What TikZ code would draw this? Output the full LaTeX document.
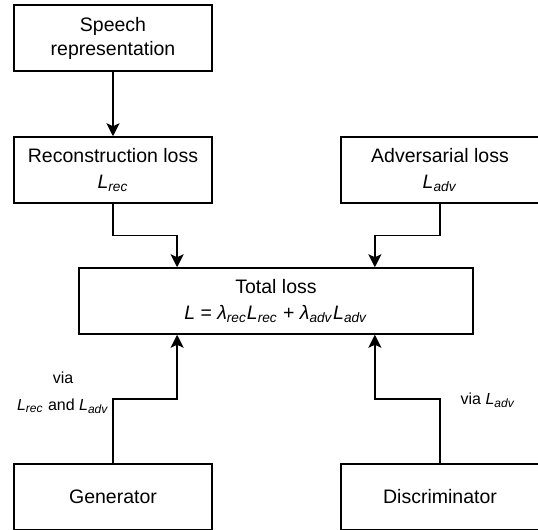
\documentclass[tikz,border=0pt]{standalone}
\usepackage{fontspec}
\setmainfont{Liberation Sans}
\usepackage{tikz}
\usetikzlibrary{positioning,arrows.meta,calc}
\tikzset{
  font=\fontsize{9.75}{12}\selectfont,
  >={Stealth[length=6.5pt,width=6.5pt,inset=1.5pt]}
}
\newcommand{\lsub}[2]{\textit{#1}\textsubscript{\textit{#2}}}

\begin{document}
\begin{tikzpicture}[x=0.5pt,y=-0.5pt,line width=0.75pt,
  item/.style={rectangle,draw,align=center,inner sep=0pt,minimum width=99pt,minimum height=33pt},
  wide/.style={item,minimum width=197pt},
  lbl/.style={font=\fontsize{8}{13.5}\selectfont,align=center,inner sep=0pt}]
\useasboundingbox (0,0) rectangle (538,530);
\node[item] (speech) at (113,38) {Speech\\representation};
\node[item] (rec) at (113,170) {Reconstruction loss\\[1pt]\lsub{L}{rec}};
\node[item] (adv) at (440,170) {Adversarial loss\\[1pt]\lsub{L}{adv}};
\node[wide] (total) at (276,301) {Total loss\\[1pt]\textit{L} = \lsub{λ}{rec}\lsub{L}{rec} + \lsub{λ}{adv}\lsub{L}{adv}};
\node[item] (gen) at (113,497) {Generator};
\node[item] (disc) at (440,497) {Discriminator};
\coordinate (inrec) at ($(total.north west)!.25!(total.north east)$);
\coordinate (inadv) at ($(total.north west)!.75!(total.north east)$);
\coordinate (ingen) at ($(total.south west)!.25!(total.south east)$);
\coordinate (indisc) at ($(total.south west)!.75!(total.south east)$);
\draw[->] (speech) -- (rec);
\draw[->] (rec.south) -- ($(rec.south)!.5!(rec.south |- total.north)$) -| (inrec);
\draw[->] (adv.south) -- ($(adv.south)!.5!(adv.south |- total.north)$) -| (inadv);
\draw[->] (gen.north) -- ($(gen.north)!.5!(gen.north |- total.south)$) -| (ingen);
\draw[->] (disc.north) -- ($(disc.north)!.5!(disc.north |- total.south)$) -| (indisc);
\node[lbl] (viagen) at (63,393) {via\\\lsub{L}{rec} and \lsub{L}{adv}};
\node[lbl] (viadisc) at (488,400) {via \lsub{L}{adv}};
\end{tikzpicture}
\end{document}
